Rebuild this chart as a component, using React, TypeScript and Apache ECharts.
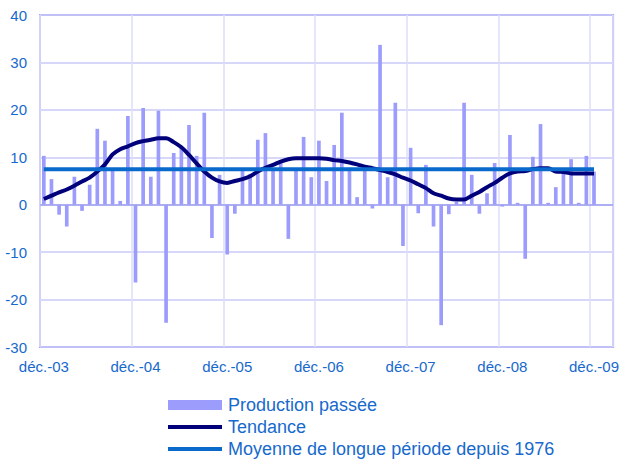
import React, { useEffect, useRef } from "react";
import * as echarts from "echarts";

const MONTHS = ["janv.", "févr.", "mars", "avr.", "mai", "juin", "juil.", "août", "sept.", "oct.", "nov.", "déc."];
const FIRST_LABEL = "déc.-03";
const LAST_LABEL = "déc.-09";
const YEARS = ["04", "05", "06", "07", "08", "09"];
const EXTRA_MONTHS = ["janv.-10", "févr.-10"];

const categories: string[] = [FIRST_LABEL];
YEARS.forEach((y) => MONTHS.forEach((m) => categories.push(`${m}-${y}`)));
EXTRA_MONTHS.forEach((c) => categories.push(c));

// Production passée (monthly, déc.-03 .. déc.-09)
const production = [
  10.3, 5.4, -2.1, -4.6, 5.9, -1.3, 4.2, 16.0, 13.5, 7.5, 0.8, 18.7,
  -16.4, 20.4, 5.9, 19.8, -24.9, 10.9, 12.0, 16.8, 10.3, 19.4, -7.0, 6.3,
  -10.5, -1.9, 7.2, 6.5, 13.7, 15.1, 7.3, 9.0, -7.2, 7.3, 14.3, 5.8,
  13.5, 5.0, 12.6, 19.4, 7.8, 1.6, 7.3, -0.8, 33.7, 5.8, 21.5, -8.7,
  12.0, -1.8, 8.4, -4.6, -25.4, -2.0, 0.6, 21.5, 6.3, -1.9, 2.4, 8.8,
  -0.4, 14.7, 0.4, -11.4, 10.1, 17.0, 0.4, 3.7, 6.6, 9.6, 0.4, 10.3,
  7.0,
];

// Tendance
const trend = [
  1.2, 1.9, 2.6, 3.2, 4.0, 4.9, 5.7, 7.0, 8.5, 10.6, 11.7, 12.3,
  13.0, 13.4, 13.7, 14.0, 14.0, 13.2, 12.1, 10.5, 8.7, 7.0, 5.7, 4.9,
  4.6, 5.0, 5.4, 6.0, 7.0, 7.8, 8.4, 9.1, 9.6, 9.8, 9.8, 9.8,
  9.8, 9.7, 9.4, 9.2, 8.9, 8.5, 8.0, 7.7, 7.3, 6.9, 6.4, 5.7,
  5.1, 4.3, 3.5, 2.4, 1.9, 1.3, 1.1, 1.1, 1.9, 2.7, 3.7, 4.6,
  5.7, 6.6, 7.0, 7.1, 7.5, 7.7, 7.7, 7.0, 6.9, 6.6, 6.6, 6.6,
  6.6,
];

const LONG_TERM_MEAN = 7.5;
const meanData = [
  [FIRST_LABEL, LONG_TERM_MEAN],
  [LAST_LABEL, LONG_TERM_MEAN],
];

const SERIES_NAMES = ["Production passée", "Tendance", "Moyenne de longue période depuis 1976"];
const Y_MIN = -30;
const Y_MAX = 40;
const Y_STEP = 10;

const FONT = "'Liberation Sans', Arial, sans-serif";
const TEXT_BLUE = "#1769cc";
const LINE_ICON = "path://M0,0H52V4H0Z";

export default function App() {
  const ref = useRef<HTMLDivElement>(null);
  useEffect(() => {
    if (!ref.current) return;
    const chart = echarts.init(ref.current, undefined, { renderer: "svg" });
    chart.setOption({
      animation: false,
      textStyle: { fontFamily: FONT },
      grid: {
        left: 40,
        right: 6,
        top: 15,
        bottom: 112,
        show: true,
        borderColor: "#a8a8f2",
        borderWidth: 2,
        backgroundColor: "transparent",
      },
      legend: {
        orient: "vertical",
        left: 168,
        top: 396,
        padding: 0,
        itemWidth: 54,
        itemHeight: 10,
        itemGap: 4,
        data: [
          { name: SERIES_NAMES[0], icon: "rect" },
          { name: SERIES_NAMES[1], icon: LINE_ICON },
          { name: SERIES_NAMES[2], icon: LINE_ICON },
        ],
        textStyle: {
          color: TEXT_BLUE,
          fontSize: 18,
          lineHeight: 18,
          fontFamily: FONT,
          padding: [0, 0, 0, 1],
        },
      },
      xAxis: {
        type: "category",
        data: categories,
        boundaryGap: true,
        axisLine: { show: false },
        axisTick: { show: false },
        axisLabel: {
          interval: 11,
          color: TEXT_BLUE,
          fontSize: 15,
          margin: 12,
          fontFamily: FONT,
        },
        splitLine: {
          show: true,
          interval: 11,
          lineStyle: { color: "#dedefa", width: 1.5 },
        },
      },
      yAxis: {
        type: "value",
        min: Y_MIN,
        max: Y_MAX,
        interval: Y_STEP,
        axisLine: { show: false },
        axisTick: { show: false },
        axisLabel: { color: TEXT_BLUE, fontSize: 15, margin: 13, fontFamily: FONT },
        splitLine: { lineStyle: { color: "#cacaf8", width: 1.5 } },
      },
      series: [
        {
          name: SERIES_NAMES[0],
          type: "bar",
          data: production,
          barWidth: "48%",
          itemStyle: { color: "#9c9cfc" },
          markLine: {
            silent: true,
            symbol: "none",
            label: { show: false },
            lineStyle: { color: "#a0a0f0", width: 1.5, type: "solid" },
            data: [{ yAxis: 0 }],
          },
        },
        {
          name: SERIES_NAMES[1],
          type: "line",
          data: trend,
          symbol: "none",
          smooth: 0.3,
          lineStyle: { color: "#00007a", width: 4 },
          itemStyle: { color: "#00007a" },
        },
        {
          name: SERIES_NAMES[2],
          type: "line",
          data: meanData,
          symbol: "none",
          lineStyle: { color: "#0a6acc", width: 4 },
          itemStyle: { color: "#0a6acc" },
        },
      ],
    });
    return () => chart.dispose();
  }, []);
  return <div ref={ref} style={{ width: 622, height: 459, position: "absolute", left: 0, top: 0 }} />;
}
